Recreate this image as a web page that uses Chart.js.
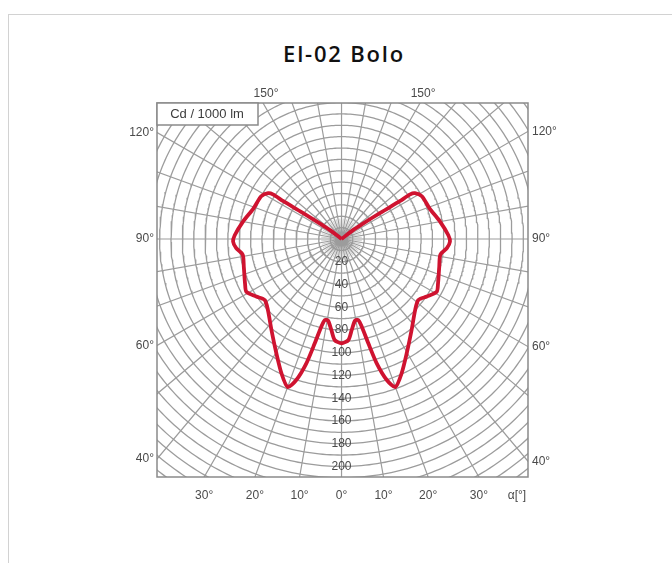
<!DOCTYPE html>
<html>
<head>
<meta charset="utf-8">
<script src="https://cdn.jsdelivr.net/npm/chart.js@4.4.1/dist/chart.umd.min.js"></script>
<style>
    html, body { margin: 0; padding: 0; background: #fff; }
    body { width: 672px; height: 563px; position: relative; overflow: hidden; }
    .card {
        position: absolute; left: 8px; top: 14px; width: 720px; height: 620px;
        border: 1px solid #d2d2d2; box-sizing: border-box;
    }
    .title {
        position: absolute; left: 0; top: 37px; width: 688px; text-align: center;
        font: 600 22px "Open Sans", Lato, sans-serif; letter-spacing: 1.8px; line-height: 32px; color: #111;
    }
    #polar { position: absolute; left: 0; top: 0; }
</style>
</head>
<body>
<div class="card"></div>
<div class="title">El-02 Bolo</div>
<canvas id="polar" width="672" height="563"></canvas>
<script>
// luminous intensity, one half of the curve (the other half is its mirror)
var gammaDeg = [180, 128, 126, 124, 123, 123, 122, 118, 109, 100, 92, 88.6, 85, 81, 74, 65, 61, 56, 51.5, 46, 37.6, 29.7, 24.1, 20, 17.8, 15.8, 14.4, 13, 11.7, 9.4, 6.4, 3.9, 0];
var intensity = [0, 12, 22, 42, 61, 72, 76, 80, 82, 88, 94, 95.4, 93, 88, 89.4, 93.6, 95.7, 90.5, 86.3, 90, 101, 115.7, 129.4, 138.5, 130.2, 113.6, 94.7, 79.2, 72.8, 72.8, 80.5, 89, 91.7];

// grid and labels
var ringLabels = [20, 40, 60, 80, 100, 120, 140, 160, 180, 200];
var ringStep = 10;
var ringMax = 280;
var spokeStep = 10;
var sideAngles = [120, 90, 60, 40];
var topAngles = [150];
var bottomAngles = [-30, -20, -10, 0, 10, 20, 30];
var unitLabel = "Cd / 1000 lm";
var axisLabel = "\u03b1[\u00b0]";

function toXY(g, r) {
    var a = g * Math.PI / 180;
    return { x: r * Math.sin(a), y: -r * Math.cos(a) };
}

drawPolar();

function drawPolar() {
    // rings
    var rings = [];
    for (var r = ringStep; r <= ringMax; r += ringStep) {
        for (var g = 0; g <= 360; g += 1) rings.push(toXY(g, r));
        rings.push({ x: NaN, y: NaN });
    }
    // spokes
    var spokes = [];
    for (var g = 0; g < 360; g += spokeStep) {
        spokes.push({ x: 0, y: 0 }, toXY(g, ringMax + 40), { x: NaN, y: NaN });
    }
    var minor = [];
    for (var g = spokeStep / 2; g < 360; g += spokeStep) {
        minor.push({ x: 0, y: 0 }, toXY(g, 18), { x: NaN, y: NaN });
    }

    // curve: right half from 180 down to 0, then left half back up
    var curve = [];
    for (var i = 0; i < gammaDeg.length; i++) curve.push(toXY(gammaDeg[i], intensity[i]));
    for (var i = gammaDeg.length - 2; i >= 0; i--) curve.push(toXY(-gammaDeg[i], intensity[i]));

    var framePlugin = {
        id: "polarFrame",
        afterDatasetsDraw: function (chart) {
            var ctx = chart.ctx, a = chart.chartArea;
            var xs = chart.scales.x, ys = chart.scales.y;
            ctx.save();
            ctx.strokeStyle = "#8a8a8a";
            ctx.lineWidth = 1.5;
            ctx.strokeRect(a.left, a.top, a.right - a.left, a.bottom - a.top);

            // unit box
            ctx.fillStyle = "#fff";
            ctx.fillRect(a.left, a.top, 101, 22);
            ctx.strokeRect(a.left, a.top, 101, 22);
            ctx.fillStyle = "#3c3c3c";
            ctx.font = "13px 'Liberation Sans', Arial, sans-serif";
            ctx.textAlign = "center";
            ctx.textBaseline = "middle";
            ctx.fillText(unitLabel, a.left + 50, a.top + 11.5);

            ctx.font = "12px 'Liberation Sans', Arial, sans-serif";
            ctx.fillStyle = "#4a4a4a";

            // ring values along 0 degrees
            ringLabels.forEach(function (v) {
                ctx.fillText(String(v), xs.getPixelForValue(0), ys.getPixelForValue(-v));
            });

            // angles where the spokes hit the frame
            sideAngles.forEach(function (g) {
                var t = Math.cos(g * Math.PI / 180) / Math.sin(g * Math.PI / 180);
                ctx.textAlign = "right";
                ctx.fillText(g + "\u00b0", a.left - 3, ys.getPixelForValue(xs.min * t));
                ctx.textAlign = "left";
                ctx.fillText(g + "\u00b0", a.right + 4, ys.getPixelForValue(-xs.max * t));
            });
            ctx.textAlign = "center";
            topAngles.forEach(function (g) {
                var t = Math.sin(g * Math.PI / 180) / -Math.cos(g * Math.PI / 180);
                var yy = a.top - 9;
                ctx.fillText(g + "\u00b0", xs.getPixelForValue(-ys.max * t) + 3, yy);
                ctx.fillText(g + "\u00b0", xs.getPixelForValue(ys.max * t) + 3, yy);
            });
            bottomAngles.forEach(function (g) {
                var x = -ys.min * Math.tan(g * Math.PI / 180);
                ctx.fillText(Math.abs(g) + "\u00b0", xs.getPixelForValue(x), a.bottom + 19);
            });
            ctx.fillText(axisLabel, a.right - 11, a.bottom + 19);
            ctx.restore();
        },
    };

    var ctx = document.getElementById("polar").getContext("2d");
    // first dataset is painted last, so the curve goes first
    var polarChart = new Chart(ctx, {
        type: "scatter",
        data: {
            datasets: [
                {
                    data: curve,
                    showLine: true,
                    borderColor: "#cf1330",
                    borderWidth: 3.8,
                    borderJoinStyle: "round",
                    tension: 0.25,
                    pointRadius: 0,
                },
                {
                    data: rings,
                    showLine: true,
                    borderColor: "#9c9c9c",
                    borderWidth: 1.3,
                    pointRadius: 0,
                    spanGaps: false,
                },
                {
                    data: spokes,
                    showLine: true,
                    borderColor: "#9c9c9c",
                    borderWidth: 1.2,
                    pointRadius: 0,
                    spanGaps: false,
                },
                {
                    data: minor,
                    showLine: true,
                    borderColor: "#c4c4c4",
                    borderWidth: 0.8,
                    pointRadius: 0,
                    spanGaps: false,
                },
            ],
        },
        options: {
            responsive: false,
            animation: false,
            events: [],
            layout: { padding: { left: 157, right: 144, top: 103, bottom: 86 } },
            scales: {
                x: { type: "linear", display: false, min: -162.3, max: 164.0 },
                y: { type: "linear", display: false, min: -209.3, max: 119.6 },
            },
            plugins: {
                legend: { display: false },
                tooltip: { enabled: false },
            },
        },
        plugins: [framePlugin],
    });
}
</script>
</body>
</html>
